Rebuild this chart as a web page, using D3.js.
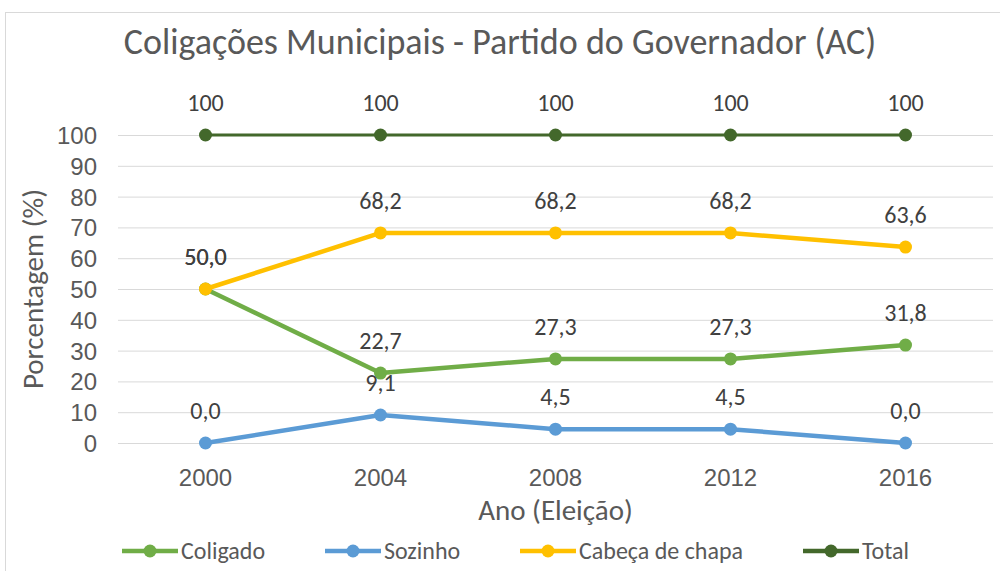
<!DOCTYPE html>
<html>
<head>
<meta charset="utf-8">
<script src="https://cdn.jsdelivr.net/npm/d3@7"></script>
<style>
  body { margin: 0; background: #fff; }
  svg { font-family: Carlito, "Open Sans", "Liberation Sans", sans-serif; }
  .grid line { stroke: #d9d9d9; stroke-width: 1; }
  .axis text { fill: #595959; font-size: 24px; }
  .axis path, .axis line { display: none; }
  .lbl { fill: #404040; font-size: 24px; text-anchor: middle; }
</style>
</head>
<body>
<svg id="chart" width="1000" height="571"></svg>
<script>
const years = ["2000", "2004", "2008", "2012", "2016"];
const coligado = [50.0, 22.7, 27.3, 27.3, 31.8];
const sozinho = [0.0, 9.1, 4.5, 4.5, 0.0];
const cabeca = [50.0, 68.2, 68.2, 68.2, 63.6];
const total = [100, 100, 100, 100, 100];
const yTicks = [0, 10, 20, 30, 40, 50, 60, 70, 80, 90, 100];

const series = [
  { name: "Coligado", values: coligado, color: "#70ad47", width: 4.5, fmt: d3.format(".1f") },
  { name: "Sozinho", values: sozinho, color: "#5b9bd5", width: 4.5, fmt: d3.format(".1f") },
  { name: "Cabeça de chapa", values: cabeca, color: "#ffc000", width: 4.5, fmt: d3.format(".1f") },
  { name: "Total", values: total, color: "#43682b", width: 3, fmt: d3.format("d") }
];

const margin = { top: 135, right: 7, bottom: 128, left: 118 },
  width = 1000 - margin.left - margin.right,
  height = 571 - margin.top - margin.bottom;

const root = d3.select("#chart");

// frame
root.append("rect")
  .attr("x", 5.5).attr("y", 12.5)
  .attr("width", 1000).attr("height", 570)
  .attr("fill", "none").attr("stroke", "#d9d9d9");

root.append("text")
  .attr("x", 500).attr("y", 54)
  .attr("text-anchor", "middle")
  .style("font-size", "36px")
  .style("fill", "#595959")
  .text("Coligações Municipais - Partido do Governador (AC)");

const svg = root.append("g")
  .attr("transform", "translate(" + margin.left + "," + margin.top + ")");

const x = d3.scaleBand().domain(years).range([0, width]);
const y = d3.scaleLinear().domain([0, 100]).range([height, 0]);

// gridlines
svg.append("g").attr("class", "grid")
  .selectAll("line").data(yTicks).join("line")
  .attr("x1", 0).attr("x2", width)
  .attr("y1", d => y(d) + 0.5).attr("y2", d => y(d) + 0.5);

// axes
svg.append("g").attr("class", "axis")
  .call(d3.axisLeft(y).tickValues(yTicks).tickSize(0).tickPadding(21))
  .selectAll("text").attr("dy", "0.35em");

svg.append("g").attr("class", "axis")
  .attr("transform", "translate(0," + height + ")")
  .call(d3.axisBottom(x).tickSize(0).tickPadding(26));

// axis titles
svg.append("text")
  .attr("x", width / 2).attr("y", height + 77)
  .attr("text-anchor", "middle")
  .style("font-size", "29px").style("fill", "#595959")
  .text("Ano (Eleição)");

svg.append("text")
  .attr("transform", "translate(" + (-75) + "," + (height / 2) + ") rotate(-90)")
  .attr("text-anchor", "middle")
  .style("font-size", "29px").style("fill", "#595959")
  .text("Porcentagem (%)");

const line = d3.line()
  .x((d, i) => x(years[i]) + x.bandwidth() / 2)
  .y(d => y(d));

series.forEach(function (s) {
  const g = svg.append("g");
  g.append("path")
    .attr("d", line(s.values))
    .attr("fill", "none")
    .attr("stroke", s.color)
    .attr("stroke-width", s.width)
    .attr("stroke-linejoin", "round");
  g.selectAll("circle").data(s.values).join("circle")
    .attr("cx", (d, i) => x(years[i]) + x.bandwidth() / 2)
    .attr("cy", d => y(d))
    .attr("r", 6.5)
    .attr("fill", s.color);
});

// data labels drawn after all lines
series.forEach(function (s) {
  svg.append("g").selectAll("text").data(s.values).join("text")
    .attr("class", "lbl")
    .attr("x", (d, i) => x(years[i]) + x.bandwidth() / 2)
    .attr("y", d => y(d) - 24)
    .text(d => s.fmt(d).replace(".", ","));
});

// legend
const legendX = [122, 325, 520, 803];
const legend = root.append("g").attr("transform", "translate(0,551)");
series.forEach(function (s, i) {
  const lg = legend.append("g").attr("transform", "translate(" + legendX[i] + ",0)");
  lg.append("line").attr("x1", 0).attr("x2", 56)
    .attr("stroke", s.color).attr("stroke-width", 4.5);
  lg.append("circle").attr("cx", 28).attr("r", 6.5).attr("fill", s.color);
  lg.append("text").attr("x", 59).attr("dy", "0.35em")
    .style("font-size", "24px").style("fill", "#595959")
    .text(s.name);
});
</script>
</body>
</html>
